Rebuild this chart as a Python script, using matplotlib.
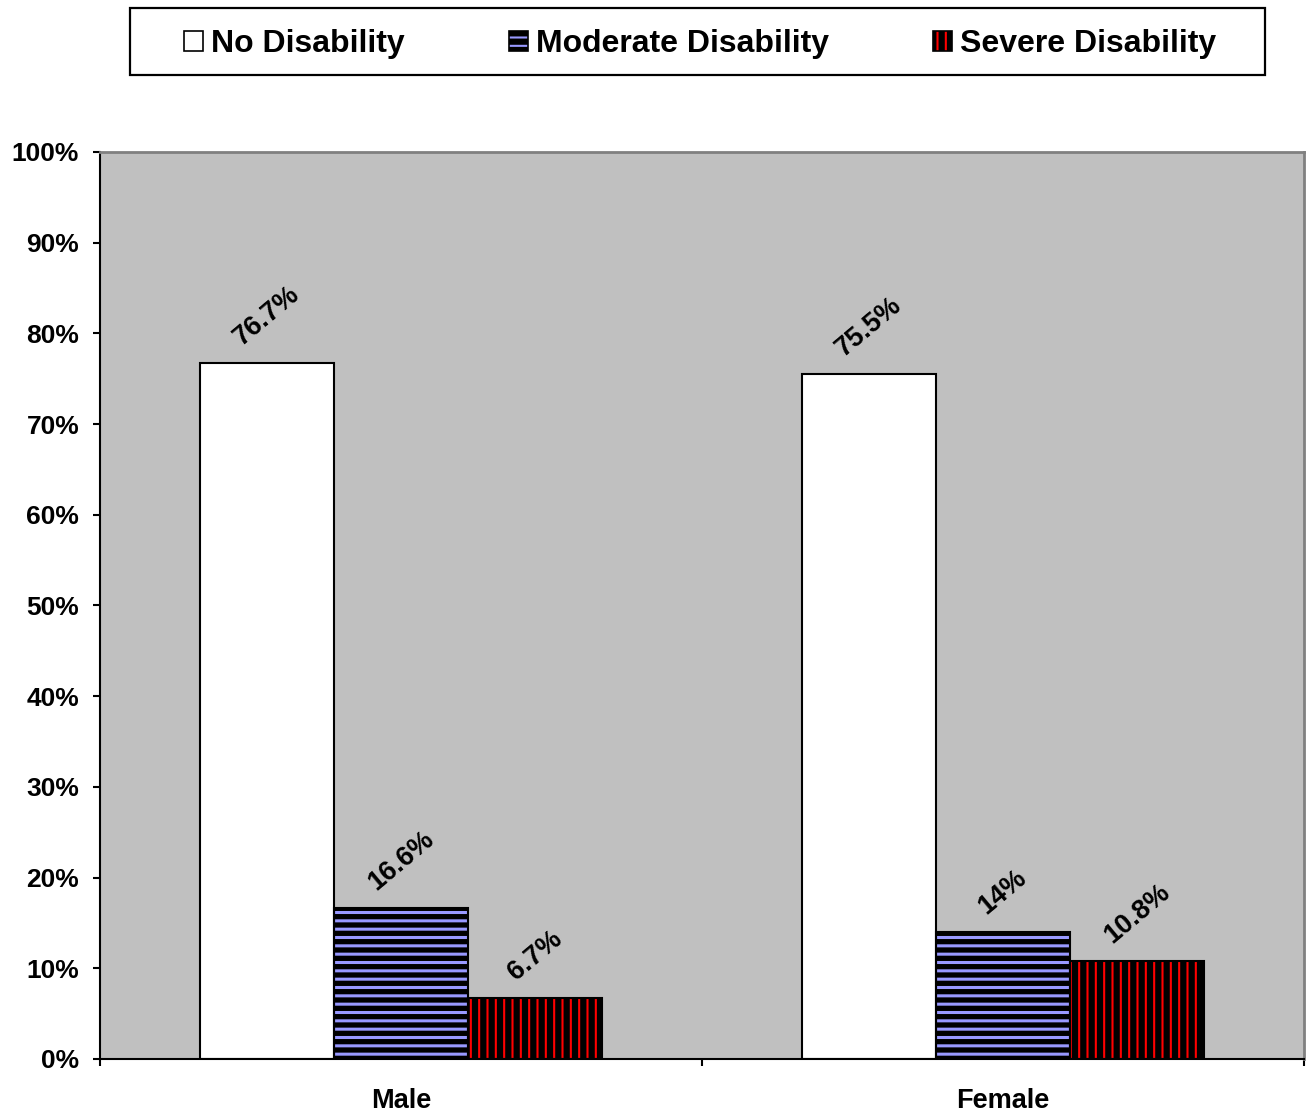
import matplotlib
matplotlib.use('Agg')
import matplotlib.pyplot as plt
from matplotlib.patches import Patch, Rectangle
from matplotlib.legend_handler import HandlerTuple
import numpy as np

# ---------------- data ----------------
categories = ['Male', 'Female']
series_names = ['No Disability', 'Moderate Disability', 'Severe Disability']
no_disability = [76.7, 75.5]
moderate_disability = [16.6, 14.0]
severe_disability = [6.7, 10.8]
value_labels = [['76.7%', '75.5%'], ['16.6%', '14%'], ['6.7%', '10.8%']]
yticks = list(range(0, 101, 10))
ytick_labels = [f'{t}%' for t in yticks]

series_values = [no_disability, moderate_disability, severe_disability]

# ---------------- style ----------------
plt.rcParams['font.family'] = ['Liberation Sans', 'DejaVu Sans']
plt.rcParams['font.weight'] = 'bold'

styles = [
    dict(face='white', hatch=None, hcolor='white', hlw=1.0),
    dict(face='black', hatch='--', hcolor='#9999FF', hlw=2.2),
    dict(face='black', hatch='||', hcolor='#FF0000', hlw=1.5),
]

fig = plt.figure(figsize=(13.08, 11.14), dpi=100)
ax = fig.add_axes([100 / 1308, 1 - 1059 / 1114, 1204 / 1308, 907 / 1114])
ax.set_facecolor('#C0C0C0')

x = np.arange(len(categories))
w = 0.2226
offsets = [-w, 0, w]


def apply_hatch_lw(patch, lw):
    if hasattr(patch, 'set_hatch_linewidth'):
        patch.set_hatch_linewidth(lw)


handles = []
for vals, off, st, labs in zip(series_values, offsets, styles, value_labels):
    plt.rcParams['hatch.linewidth'] = st['hlw']
    bars = ax.bar(x + off, vals, w, color=st['face'], edgecolor=st['hcolor'],
                  linewidth=0, hatch=st['hatch'], zorder=2)
    for b in bars:
        apply_hatch_lw(b, st['hlw'])
    ax.bar(x + off, vals, w, fill=False, edgecolor='black', linewidth=1.5, zorder=3)
    for xi, v, lab in zip(x + off, vals, labs):
        ax.annotate(lab, xy=(xi, v), xytext=(0, 9), textcoords='offset points',
                    ha='center', va='bottom', rotation=40, fontsize=19.5,
                    fontweight='bold', color='black', zorder=4)
    hp = Patch(facecolor=st['face'], edgecolor=st['hcolor'], hatch=st['hatch'], linewidth=0)
    apply_hatch_lw(hp, st['hlw'])
    op = Patch(fill=False, edgecolor='black', linewidth=1.2)
    handles.append((hp, op))

ax.set_xlim(-0.5, 1.5)
ax.set_ylim(0, 100)

ax.set_yticks(yticks)
ax.set_yticklabels(ytick_labels, fontsize=19, fontweight='bold')
ax.tick_params(axis='y', direction='out', length=5, width=1.5, pad=10)

ax.set_xticks([-0.5, 0.5, 1.5])
ax.set_xticklabels(['', '', ''])
ax.set_xticks(x, minor=True)
ax.set_xticklabels(categories, minor=True, fontsize=19.5, fontweight='bold')
ax.tick_params(axis='x', which='major', direction='out', length=5, width=1.5)
ax.tick_params(axis='x', which='minor', length=0, pad=21)

for s in ['left', 'bottom']:
    ax.spines[s].set_color('black')
    ax.spines[s].set_linewidth(1.5)
for s in ['top', 'right']:
    ax.spines[s].set_color('#808080')
    ax.spines[s].set_linewidth(2)

# legend
plt.rcParams['hatch.linewidth'] = 1.5
fig.legend(handles, series_names, loc='center',
           bbox_to_anchor=(700 / 1308, 1 - 44 / 1114), ncol=3, frameon=False,
           prop={'size': 23, 'weight': 'bold'}, handlelength=0.6, handleheight=0.6,
           handletextpad=0.25, columnspacing=3.25,
           handler_map={tuple: HandlerTuple(ndivide=1, pad=0)})
fig.add_artist(Rectangle((130 / 1308, 1 - 75 / 1114), 1135 / 1308, 67 / 1114,
                         transform=fig.transFigure, fill=False,
                         edgecolor='black', linewidth=1.6))

fig.savefig('out.png', dpi=100)
